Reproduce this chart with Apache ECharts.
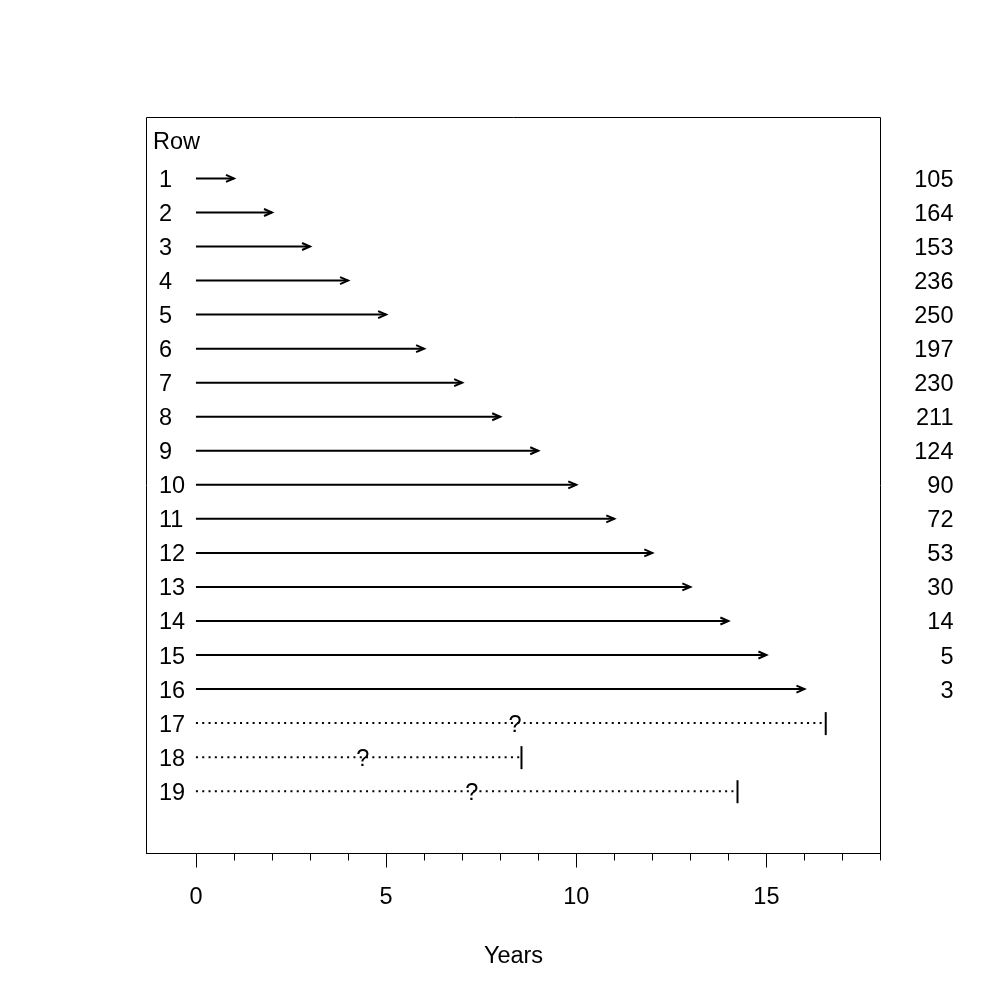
<!DOCTYPE html>
<html>
<head>
<meta charset="utf-8">
<script src="https://cdn.jsdelivr.net/npm/echarts@6/dist/echarts.min.js"></script>
<style>html,body{margin:0;padding:0;background:#fff}#c{width:1000px;height:1000px}</style>
</head>
<body>
<div id="c"></div>
<script>
// ---- data ----
const rowLabels = ['1','2','3','4','5','6','7','8','9','10','11','12','13','14','15','16','17','18','19'];
const arrowEnds = [1,2,3,4,5,6,7,8,9,10,11,12,13,14,15,16];
const counts = [105,164,153,236,250,197,230,211,124,90,72,53,30,14,5,3];
const censoredRows = [17,18,19];
const censoredEnds = [16.56,8.56,14.24];
const questionPos = [8.39,4.39,7.25];
const xTicks = [0,1,2,3,4,5,6,7,8,9,10,11,12,13,14,15,16,17,18];
const xLabels = [0,5,10,15];

const FONT = '"Liberation Sans", Arial, sans-serif';
const FS = 23.5;
const chart = echarts.init(document.getElementById('c'), null, {renderer:'canvas'});

const arrowData = arrowEnds.map((e,i)=>[0,e,i+1,counts[i]]);
const censData = censoredRows.map((r,i)=>[0,censoredEnds[i],r,questionPos[i]]);
const labelData = rowLabels.map((l,i)=>[0,i+1,l]);

chart.setOption({
  animation:false,
  backgroundColor:'#fff',
  grid:{left:146.5,right:119.5,top:117.5,bottom:146.5,show:true,borderColor:'#000',borderWidth:1,backgroundColor:'transparent'},
  xAxis:[{
    type:'value',min:-1.3,max:18,position:'bottom',
    axisLine:{show:true,onZero:false,lineStyle:{color:'#000',width:1}},
    axisTick:{show:true,customValues:xTicks,length:7,lineStyle:{color:'#000',width:1}},
    axisLabel:{show:false},
    splitLine:{show:false}
  },{
    type:'value',min:-1.3,max:18,position:'bottom',
    axisLine:{show:false,onZero:false},
    axisTick:{show:true,customValues:xLabels,length:14,lineStyle:{color:'#000',width:1}},
    axisLabel:{show:true,customValues:xLabels,color:'#000',fontSize:FS,fontFamily:FONT,margin:32},
    splitLine:{show:false},
    name:'Years',nameLocation:'middle',nameGap:91,
    nameTextStyle:{color:'#000',fontSize:FS,fontFamily:FONT}
  }],
  yAxis:{type:'value',inverse:true,min:-0.79,max:20.83,show:false},
  series:[{
    type:'custom',
    coordinateSystem:'cartesian2d',
    xAxisIndex:0,
    data:arrowData,
    clip:false,
    renderItem:function(params,api){
      const y = api.value(2);
      const p0 = api.coord([api.value(0),y]);
      const p1 = api.coord([api.value(1),y]);
      const pr = api.coord([18,y]);
      const L=8,H=3.5;
      return {type:'group',children:[
        {type:'line',shape:{x1:p0[0],y1:p0[1],x2:p1[0],y2:p1[1]},style:{stroke:'#000',lineWidth:2}},
        {type:'polyline',shape:{points:[[p1[0]-L,p1[1]-H],[p1[0],p1[1]],[p1[0]-L,p1[1]+H]]},style:{stroke:'#000',lineWidth:2,fill:null}},
        {type:'text',style:{text:String(api.value(3)),x:pr[0]+73,y:pr[1]+2,textAlign:'right',textVerticalAlign:'middle',fill:'#000',fontSize:FS,fontFamily:FONT}}
      ]};
    }
  },{
    type:'custom',
    coordinateSystem:'cartesian2d',
    data:censData,
    clip:false,
    renderItem:function(params,api){
      const y = api.value(2);
      const p0 = api.coord([api.value(0),y]);
      const p1 = api.coord([api.value(1),y]);
      const q = api.coord([api.value(3),y]);
      return {type:'group',children:[
        {type:'line',shape:{x1:p0[0],y1:p0[1],x2:p1[0],y2:p1[1]},style:{stroke:'#000',lineWidth:2,lineDash:[2,4.3]}},
        {type:'line',shape:{x1:p1[0],y1:p1[1]-11,x2:p1[0],y2:p1[1]+12},style:{stroke:'#000',lineWidth:2}},
        {type:'text',style:{text:'?',x:q[0],y:q[1]+2,textAlign:'center',textVerticalAlign:'middle',fill:'#000',fontSize:FS,fontFamily:FONT}}
      ]};
    }
  },{
    type:'custom',
    coordinateSystem:'cartesian2d',
    data:labelData,
    clip:false,
    renderItem:function(params,api){
      const p = api.coord([api.value(0),api.value(1)]);
      const children = [
        {type:'text',style:{text:String(api.value(2)),x:p[0]-37,y:p[1]+2,textAlign:'left',textVerticalAlign:'middle',fill:'#000',fontSize:FS,fontFamily:FONT}}
      ];
      if(params.dataIndex===0){
        const h = api.coord([0,0]);
        children.push({type:'text',style:{text:'Row',x:h[0]-43,y:h[1]-2,textAlign:'left',textVerticalAlign:'middle',fill:'#000',fontSize:FS,fontFamily:FONT}});
      }
      return {type:'group',children:children};
    }
  }]
});
</script>
</body>
</html>
